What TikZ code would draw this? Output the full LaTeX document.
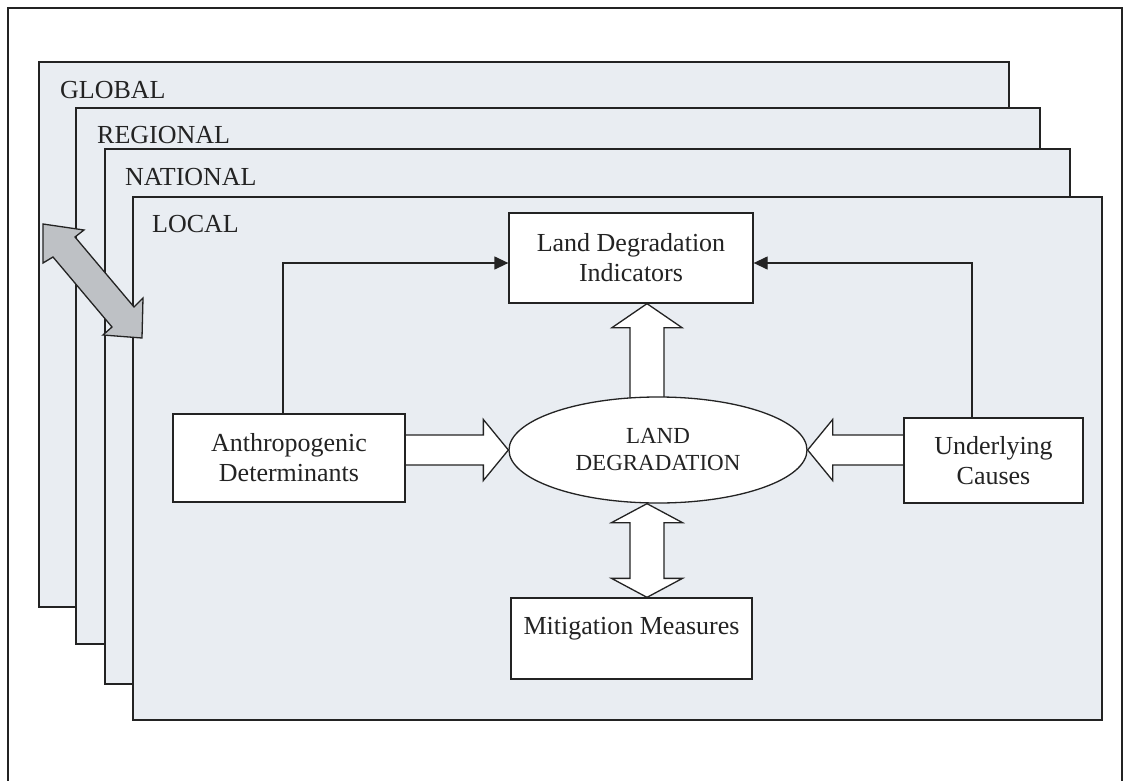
\documentclass[tikz,border=0pt]{standalone}
\usepackage{fontspec}
\setmainfont{Liberation Serif}
\usetikzlibrary{arrows.meta,calc,shapes.geometric}
\definecolor{layerfill}{RGB}{233,237,242}
\definecolor{ink}{RGB}{35,35,35}
\definecolor{grayarrow}{RGB}{190,193,197}
\pgfdeclarelayer{back}
\pgfdeclarelayer{arrowlayer}
\pgfsetlayers{back,arrowlayer,main}
\begin{document}
\begin{tikzpicture}[x=1pt,y=-1pt,
  frame/.style={draw=ink,line width=1.8pt},
  layer/.style={draw=ink,fill=layerfill,line width=1.6pt},
  lbl/.style={anchor=base west,inner sep=0pt,font=\fontsize{26}{30}\selectfont,text=ink},
  box/.style={draw=ink,fill=white,line width=1.3pt,rectangle,inner sep=0pt,align=center,
    font=\fontsize{26}{30}\selectfont,text=ink},
  oval/.style={draw=ink,fill=white,line width=1.3pt,ellipse,inner sep=0pt,align=center,
    font=\fontsize{23}{27}\selectfont,text=ink},
  hollow/.style={draw=ink,fill=white,line width=1.3pt,line join=miter},
  conn/.style={draw=ink,line width=1.3pt,-{Triangle[length=14pt,width=13pt]}},
  grayarr/.style={draw=ink,fill=grayarrow,line width=1.3pt,line join=miter}]
\useasboundingbox (0,0) rectangle (1129,781);
\clip (0,0) rectangle (1129,781);
\begin{pgfonlayer}{back}
\fill[white] (0,0) rectangle (1129,781);
\draw[frame] (8,8) rectangle (1122,800);
\draw[layer] (39,62) rectangle (1009,607);
\draw[layer] (76,108) rectangle (1040,644);
\draw[layer] (105,149) rectangle (1070,684);
\draw[layer] (133,197) rectangle (1102,720);
\end{pgfonlayer}
\node[lbl] (tglobal) at (60,99) {GLOBAL};
\node[lbl] (tregional) at (97,143) {REGIONAL};
\node[lbl] (tnational) at (125,185) {NATIONAL};
\node[lbl] (tlocal) at (152,232) {LOCAL};
% gray double arrow between scales
\draw[grayarr] (43,224) -- (84,230) -- (75,237) -- (134,307) -- (143,298) -- (142,338)
  -- (103,335) -- (112,327) -- (53,257) -- (43,263) -- cycle;
% main nodes
\node[box,minimum width=244,minimum height=90] (ldi) at (631,258) {Land Degradation\\Indicators};
\node[box,minimum width=232,minimum height=88] (ant) at (289,458) {Anthropogenic\\Determinants};
\node[box,minimum width=179,minimum height=85] (ub) at (993.5,460.5) {Underlying\\Causes};
\node[oval,minimum width=298,minimum height=106] (ld) at (658,450) {LAND\\DEGRADATION};
\node[box,minimum width=241,minimum height=81,text height=18pt,text depth=27pt] (mm) at (631.5,638.5) {Mitigation Measures};
\coordinate (ax) at (647,0);
\begin{pgfonlayer}{arrowlayer}
% Anthropogenic -> Land degradation
\draw[hollow] let \p1=(ant.east |- ld.west), \p2=(ld.west) in
  (\x1-5pt,\y1+15pt) -- (\x2-25pt,\y1+15pt) -- (\x2-25pt,\y1+30.5pt) -- (\x2,\y2)
  -- (\x2-25pt,\y1-30.5pt) -- (\x2-25pt,\y1-15pt) -- (\x1-5pt,\y1-15pt) -- cycle;
% Underlying -> Land degradation
\draw[hollow] let \p1=(ub.west |- ld.east), \p2=(ld.east) in
  (\x1+5pt,\y1+15pt) -- (\x2+25pt,\y1+15pt) -- (\x2+25pt,\y1+30.5pt) -- (\x2,\y2)
  -- (\x2+25pt,\y1-30.5pt) -- (\x2+25pt,\y1-15pt) -- (\x1+5pt,\y1-15pt) -- cycle;
% Land degradation -> Indicators
\draw[hollow] let \p1=(ax |- ld.center), \p2=(ax |- ldi.south) in
  (\x1-17pt,\y1) -- (\x1-17pt,\y2-24pt) -- (\x1-35pt,\y2-24pt) -- (\x2,\y2)
  -- (\x1+35pt,\y2-24pt) -- (\x1+17pt,\y2-24pt) -- (\x1+17pt,\y1) -- cycle;
% Land degradation <-> Mitigation
\draw[hollow] let \p1=(ax |- ld.south), \p2=(ax |- mm.north) in
  (\x1,\y1) -- (\x1+35.5pt,\y1-19pt) -- (\x1+17pt,\y1-19pt) -- (\x1+17pt,\y2+19pt)
  -- (\x1+35.5pt,\y2+19pt) -- (\x2,\y2) -- (\x1-35.5pt,\y2+19pt) -- (\x1-17pt,\y2+19pt)
  -- (\x1-17pt,\y1-19pt) -- (\x1-35.5pt,\y1-19pt) -- cycle;
\end{pgfonlayer}
% thin connectors
\draw[conn] ([xshift=-6pt]ant.north) |- ([yshift=-5pt]ldi.west);
\draw[conn] ([xshift=-21.5pt]ub.north) |- ([yshift=-5pt]ldi.east);
\end{tikzpicture}
\end{document}
